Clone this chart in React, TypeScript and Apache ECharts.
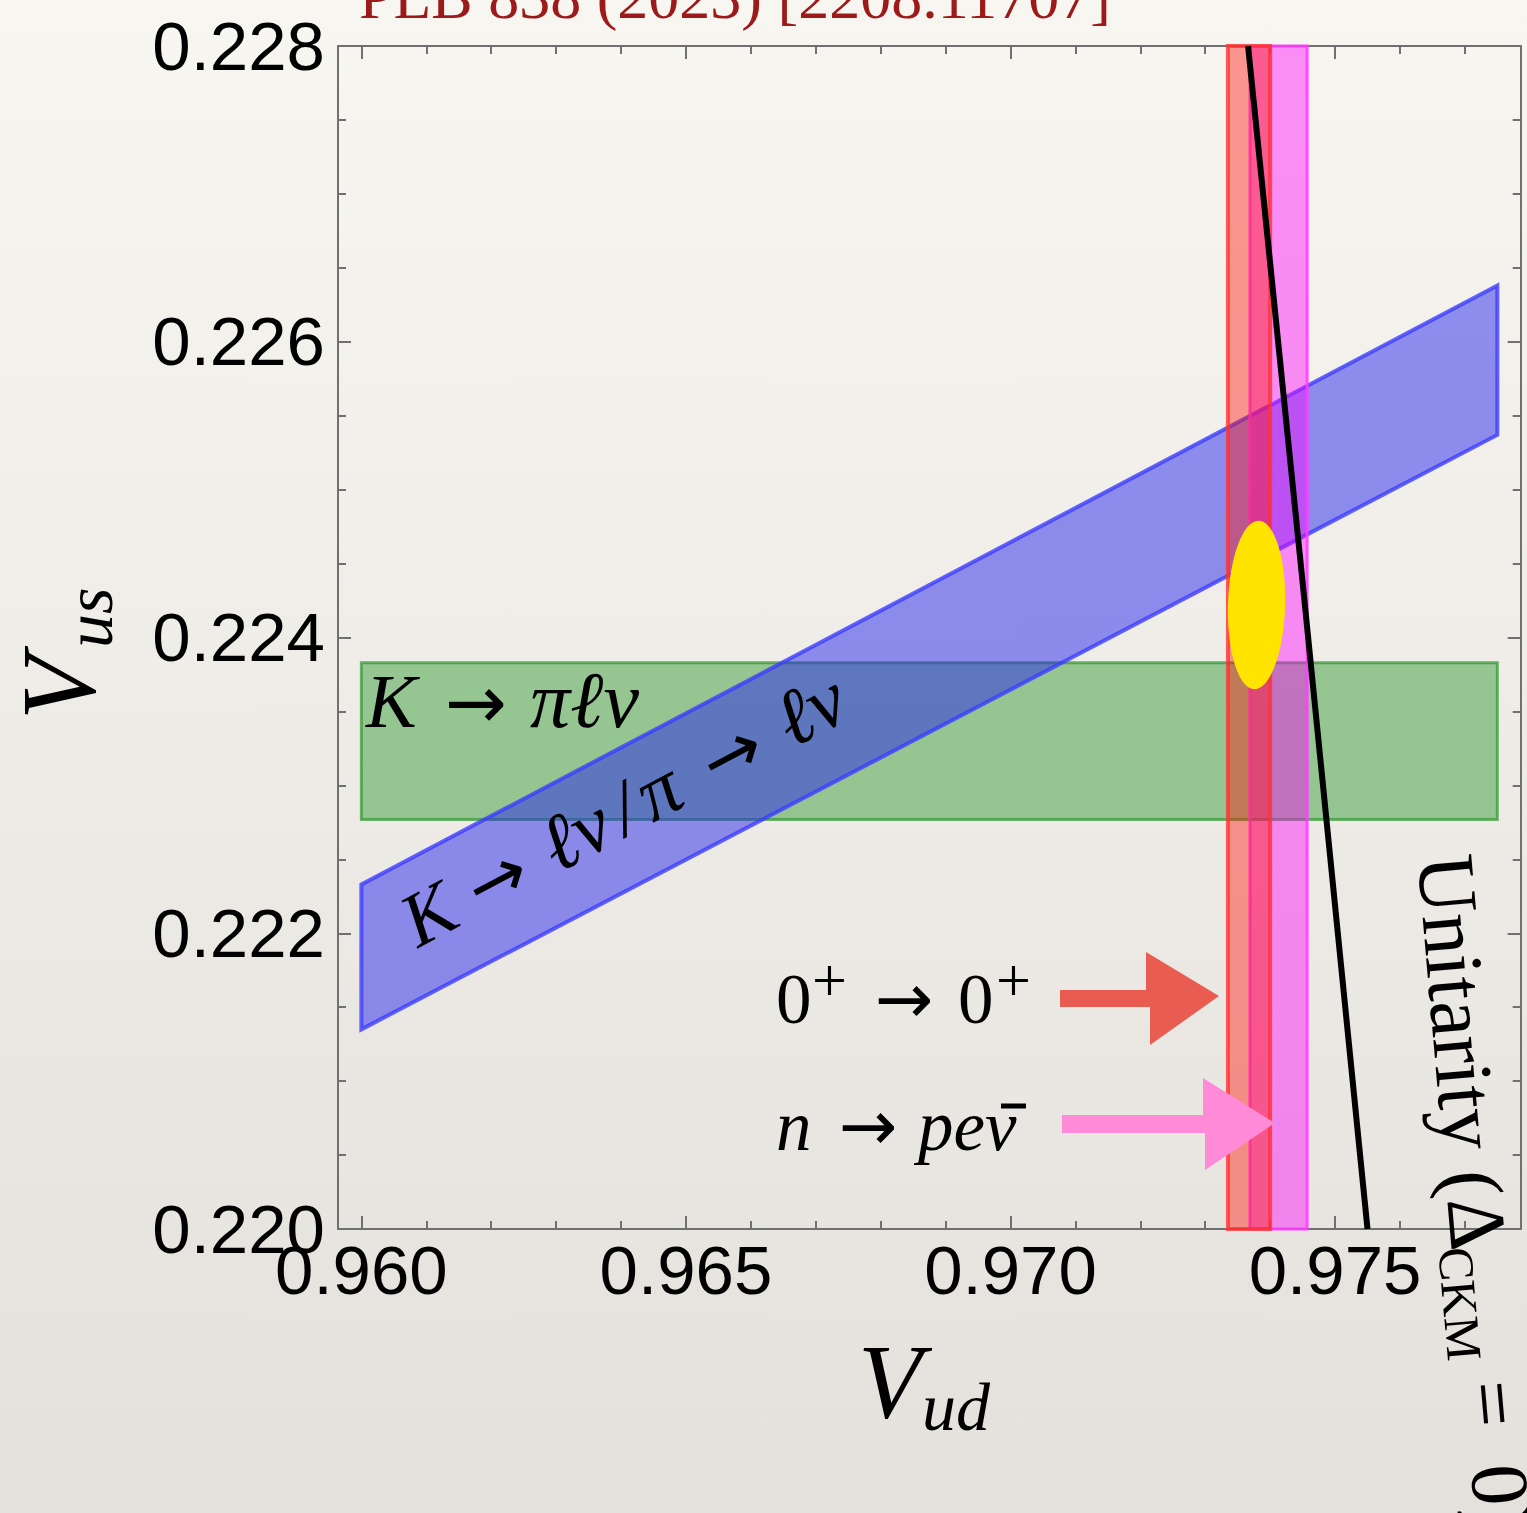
import React, { useEffect, useRef } from "react";
import * as echarts from "echarts";

// ---------- data ----------
const xRange = [0.95964, 0.97786];
const yRange = [0.22, 0.228];
const xMajorTicks = [0.96, 0.965, 0.97, 0.975];
const xMinorTicks = [0.961, 0.962, 0.963, 0.964, 0.966, 0.967, 0.968, 0.969, 0.971, 0.972, 0.973, 0.974, 0.976, 0.977];
const yInterval = 0.002;

// K -> pi l nu  (Vus band)
const kl3Vud = [0.96, 0.9775];
const kl3Vus = [0.22277, 0.22383];
// K -> l nu / pi -> l nu  (ratio band edges)
const kl2UpperEdge = [[0.96, 0.22233], [0.9775, 0.22638]];
const kl2LowerEdge = [[0.96, 0.22135], [0.9775, 0.22537]];
// 0+ -> 0+  (Vud band)
const superallowedVud = [0.97335, 0.974];
// n -> p e nubar  (Vud band)
const neutronVud = [0.97369, 0.97457];
// unitarity curve
const unitarityVud = [0.97366, 0.97454, 0.9755];
const unitarityVus = [0.228, 0.2242, 0.22];
// global fit ellipse: center and half widths
const fitCenter = [0.97379, 0.22422];
const fitHalfWidth = [0.00044, 0.00057];

const serif = "'Liberation Serif', 'Times New Roman', 'DejaVu Serif', serif";
const arrowFont = "'DejaVu Sans', sans-serif";
const sans = "'Liberation Sans', Arial, Helvetica, sans-serif";
const axisGray = "#707070";

function polygonSeries(points: number[][], fill: string, stroke: string, lw: number) {
  return {
    type: "custom",
    coordinateSystem: "cartesian2d",
    xAxisIndex: 0,
    yAxisIndex: 0,
    silent: true,
    data: points,
    encode: { x: 0, y: 1 },
    renderItem: (params: any, api: any) => {
      if (params.dataIndex !== 0) return null;
      const pts = points.map((p) => api.coord(p));
      return { type: "polygon", shape: { points: pts }, style: { fill, stroke, lineWidth: lw } };
    },
  };
}

function t(text: string, x: number, baseline: number, fs: number, o: any = {}) {
  return {
    type: "text",
    x,
    y: baseline - 0.34 * fs,
    silent: true,
    z: 100,
    style: {
      text,
      fontSize: fs,
      fontFamily: o.family || serif,
      fontStyle: o.italic ? "italic" : "normal",
      fill: o.fill || "#000",
      textAlign: o.align || "left",
      textVerticalAlign: "middle",
    },
  };
}

function arrow(x: number, baseline: number, fs: number) {
  return t("→", x, baseline, fs, { align: "center", family: arrowFont });
}

export default function App() {
  const ref = useRef<HTMLDivElement>(null);
  useEffect(() => {
    document.body.style.margin = "0";
    const chart = echarts.init(ref.current!, null, { renderer: "svg" });

    const greenPts = [
      [kl3Vud[0], kl3Vus[0]],
      [kl3Vud[1], kl3Vus[0]],
      [kl3Vud[1], kl3Vus[1]],
      [kl3Vud[0], kl3Vus[1]],
    ];
    const bluePts = [kl2LowerEdge[0], kl2LowerEdge[1], kl2UpperEdge[1], kl2UpperEdge[0]];
    const redPts = [
      [superallowedVud[0], yRange[0]],
      [superallowedVud[1], yRange[0]],
      [superallowedVud[1], yRange[1]],
      [superallowedVud[0], yRange[1]],
    ];
    const magPts = [
      [neutronVud[0], yRange[0]],
      [neutronVud[1], yRange[0]],
      [neutronVud[1], yRange[1]],
      [neutronVud[0], yRange[1]],
    ];

    const tickLine = { color: axisGray, width: 2 };
    const xBase = { type: "value", min: xRange[0], max: xRange[1], splitLine: { show: false } };

    const option: any = {
      animation: false,
      backgroundColor: new echarts.graphic.LinearGradient(0, 0, 0, 1, [
        { offset: 0, color: "#f8f6f1" },
        { offset: 1, color: "#e4e1dc" },
      ]),
      grid: { left: 338, top: 46, right: 6.3, bottom: 284, containLabel: false, outerBoundsMode: "none" },
      xAxis: [
        {
          ...xBase,
          position: "bottom",
          axisLine: { show: true, onZero: false, lineStyle: tickLine },
          axisTick: { show: true, inside: true, length: 13, customValues: xMajorTicks, lineStyle: tickLine },
          axisLabel: {
            show: true,
            customValues: xMajorTicks,
            formatter: (v: number) => v.toFixed(3),
            fontSize: 69,
            fontFamily: sans,
            color: "#000",
            margin: 7,
          },
        },
        {
          ...xBase,
          position: "bottom",
          axisLine: { show: false },
          axisTick: { show: true, inside: true, length: 8, customValues: xMinorTicks, lineStyle: tickLine },
          axisLabel: { show: false },
        },
        {
          ...xBase,
          position: "top",
          axisLine: { show: true, onZero: false, lineStyle: tickLine },
          axisTick: { show: true, inside: true, length: 13, customValues: xMajorTicks, lineStyle: tickLine },
          axisLabel: { show: false },
        },
        {
          ...xBase,
          position: "top",
          axisLine: { show: false },
          axisTick: { show: true, inside: true, length: 8, customValues: xMinorTicks, lineStyle: tickLine },
          axisLabel: { show: false },
        },
      ],
      yAxis: [
        {
          type: "value",
          min: yRange[0],
          max: yRange[1],
          interval: yInterval,
          position: "left",
          splitLine: { show: false },
          axisLine: { show: true, onZero: false, lineStyle: tickLine },
          axisTick: { show: true, inside: true, length: 13, lineStyle: tickLine },
          minorTick: { show: true, splitNumber: 4, length: 8, lineStyle: tickLine },
          axisLabel: {
            formatter: (v: number) => v.toFixed(3),
            fontSize: 69,
            fontFamily: sans,
            color: "#000",
            margin: 13,
            padding: [0, 0, 14, 0],
          },
        },
        {
          type: "value",
          min: yRange[0],
          max: yRange[1],
          interval: yInterval,
          position: "right",
          splitLine: { show: false },
          axisLine: { show: true, onZero: false, lineStyle: tickLine },
          axisTick: { show: true, inside: true, length: 13, lineStyle: tickLine },
          minorTick: { show: true, splitNumber: 4, length: 8, lineStyle: tickLine },
          axisLabel: { show: false },
        },
      ],
      series: [
        polygonSeries(greenPts, "rgba(40,150,40,0.45)", "rgba(50,150,50,0.7)", 3),
        polygonSeries(bluePts, "rgba(40,40,235,0.5)", "rgba(60,60,255,0.8)", 4),
        polygonSeries(magPts, "rgba(255,0,255,0.42)", "rgba(255,60,255,0.85)", 3),
        polygonSeries(redPts, "rgba(255,20,10,0.42)", "rgba(255,50,50,0.8)", 4),
        {
          type: "line",
          xAxisIndex: 0,
          yAxisIndex: 0,
          data: unitarityVud.map((x, i) => [x, unitarityVus[i]]),
          symbol: "none",
          silent: true,
          lineStyle: { color: "#000", width: 6 },
        },
        {
          type: "custom",
          coordinateSystem: "cartesian2d",
          xAxisIndex: 0,
          yAxisIndex: 0,
          silent: true,
          data: [[fitCenter[0], fitCenter[1], fitHalfWidth[0], fitHalfWidth[1]]],
          encode: { x: 0, y: 1 },
          renderItem: (params: any, api: any) => {
            const c = api.coord([api.value(0), api.value(1)]);
            const s = api.size([api.value(2), api.value(3)]);
            return {
              type: "ellipse",
              x: c[0],
              y: c[1],
              rotation: -0.027,
              shape: { cx: 0, cy: 0, rx: s[0], ry: s[1] },
              style: { fill: "#ffe400", stroke: "none" },
            };
          },
        },
      ],
      graphic: [
        // title (cut at the top)
        t("PLB 838 (2023) [2208.11707]", 735, 18, 62, { align: "center", fill: "#9c1a1a" }),
        // axis titles
        t("V", 858, 1417, 105, { italic: true }),
        t("ud", 922, 1430, 68, { italic: true }),
        {
          type: "group",
          x: 94,
          y: 720,
          rotation: Math.PI / 2,
          children: [t("V", 0, 0, 105, { italic: true }), t("us", 72, 18, 68, { italic: true })],
        },
        // K -> pi l nu
        t("K", 366, 727, 76, { italic: true }),
        arrow(476, 727, 74),
        t("πℓν", 530, 727, 80, { italic: true }),
        // K -> l nu / pi -> l nu rotated
        {
          type: "group",
          x: 418,
          y: 948,
          rotation: (28 * Math.PI) / 180,
          children: [
            t("K", 0, 0, 76, { italic: true }),
            arrow(102, 0, 72),
            t("ℓν", 158, 0, 80, { italic: true }),
            t("/", 236, 0, 78, { italic: true }),
            t("π", 266, 0, 80, { italic: true }),
            arrow(368, 0, 72),
            t("ℓν", 424, 0, 80, { italic: true }),
          ],
        },
        // 0+ -> 0+
        t("0", 776, 1023, 71),
        t("+", 812, 1001, 62),
        arrow(904, 1023, 70),
        t("0", 958, 1023, 71),
        t("+", 996, 1001, 62),
        // n -> p e nubar
        t("n", 776, 1150, 71, { italic: true }),
        arrow(868, 1150, 70),
        t("peν", 918, 1150, 71, { italic: true }),
        {
          type: "line",
          silent: true,
          z: 100,
          shape: { x1: 1001, y1: 1106, x2: 1026, y2: 1106 },
          style: { stroke: "#000", lineWidth: 5 },
        },
        // hand-drawn arrows
        {
          type: "polygon",
          silent: true,
          z: 90,
          shape: {
            points: [
              [1060, 990], [1146, 990], [1146, 952], [1219, 996], [1150, 1045], [1150, 1007], [1060, 1007],
            ],
          },
          style: { fill: "#e95c52" },
        },
        {
          type: "polygon",
          silent: true,
          z: 90,
          shape: {
            points: [
              [1062, 1115], [1203, 1115], [1203, 1078], [1275, 1123], [1205, 1170], [1205, 1133], [1062, 1133],
            ],
          },
          style: { fill: "#ff8ad8" },
        },
        // Unitarity label
        {
          type: "group",
          x: 1417,
          y: 857,
          rotation: (-85 * Math.PI) / 180,
          children: [
            t("Unitarity (Δ", 0, 0, 82),
            t("CKM", 392, 13, 50),
            t("=", 528, 0, 82),
            t("0)", 612, 0, 82),
          ],
        },
      ],
    };
    chart.setOption(option);
    return () => chart.dispose();
  }, []);
  return (
    <div
      ref={ref}
      style={{ position: "fixed", left: 0, top: 0, width: 1527, height: 1513 }}
    />
  );
}
